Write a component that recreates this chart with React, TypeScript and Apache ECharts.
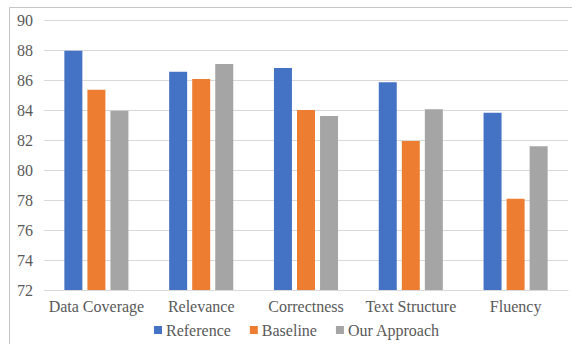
import React, { useEffect, useRef } from "react";
import * as echarts from "echarts";

const categories = ["Data Coverage", "Relevance", "Correctness", "Text Structure", "Fluency"];
const referenceValues = [87.95, 86.55, 86.8, 85.85, 83.82];
const baselineValues = [85.35, 86.07, 84.0, 81.93, 78.09];
const ourApproachValues = [83.95, 87.07, 83.6, 84.05, 81.58];
const seriesNames = ["Reference", "Baseline", "Our Approach"];
const colors = ["#4472C4", "#ED7D31", "#A5A5A5"];

const FONT = "Times New Roman, Liberation Serif, serif";

export default function App() {
  const ref = useRef<HTMLDivElement>(null);
  useEffect(() => {
    if (!ref.current) return;
    const chart = echarts.init(ref.current, undefined, { renderer: "svg" });
    const data = [referenceValues, baselineValues, ourApproachValues];
    chart.setOption({
      animation: false,
      textStyle: { fontFamily: FONT },
      graphic: [
        {
          type: "rect",
          shape: { x: 9.5, y: 7.5, width: 600, height: 400 },
          style: { fill: "none", stroke: "#c4c4c4", lineWidth: 1 },
        },
      ],
      grid: { left: 44, right: 4, top: 20, bottom: 54 },
      legend: {
        data: seriesNames,
        bottom: 1,
        left: 149,
        itemWidth: 8,
        itemHeight: 8,
        itemGap: 19,
        icon: "rect",
        textStyle: { fontFamily: FONT, fontSize: 16, color: "#595959", padding: [0, 0, 0, -1] },
      },
      xAxis: {
        type: "category",
        data: categories,
        axisLine: { lineStyle: { color: "#d9d9d9" } },
        axisTick: { show: false },
        axisLabel: { fontFamily: FONT, fontSize: 16, color: "#595959", margin: 8, interval: 0 },
      },
      yAxis: {
        type: "value",
        min: 72,
        max: 90,
        interval: 2,
        axisLine: { show: false },
        axisTick: { show: false },
        splitLine: { lineStyle: { color: "#d9d9d9" } },
        axisLabel: { fontFamily: FONT, fontSize: 16, color: "#595959", margin: 11 },
      },
      series: seriesNames.map((name, i) => ({
        name,
        type: "bar",
        data: data[i],
        barWidth: 18,
        barGap: "28%",
        itemStyle: { color: colors[i] },
      })),
    });
    return () => chart.dispose();
  }, []);
  return (
    <div
      ref={ref}
      style={{ position: "fixed", left: 0, top: 0, width: 572, height: 344, background: "#fff" }}
    />
  );
}
